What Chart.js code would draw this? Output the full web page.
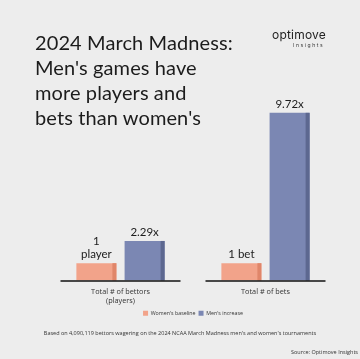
<!DOCTYPE html>
<html>
<head>
<meta charset="utf-8">
<script src="https://cdn.jsdelivr.net/npm/chart.js@4"></script>
<style>
  html, body { margin: 0; padding: 0; background: #ededed; }
  #wrap { position: relative; width: 360px; height: 359px; overflow: hidden; background: #ededed; font-family: "Open Sans", sans-serif; }
  #title { position: absolute; left: 35px; top: 30px; font-family: Lato, sans-serif; font-size: 20px; line-height: 25px; color: #1c1c1c; font-weight: 400; letter-spacing: 0.1px; }
  #logo { position: absolute; left: 272px; top: 27px; font-family: Inter, sans-serif; font-size: 12px; color: #222; letter-spacing: 0.2px; }
  #logo2 { position: absolute; left: 293px; top: 42px; font-family: Inter, sans-serif; font-size: 5px; color: #333; letter-spacing: 1.6px; }
  #note { position: absolute; left: 0; width: 360px; top: 329px; text-align: center; font-size: 5.5px; color: #333; }
  #src { position: absolute; right: 2px; top: 348px; font-size: 5.5px; color: #333; }
  canvas { position: absolute; left: 0; top: 0; }
</style>
</head>
<body>
<div id="wrap">
  <canvas id="c" width="360" height="359"></canvas>
  <div id="title">2024 March Madness:<br>Men's games have<br>more players and<br>bets than women's</div>
  <div id="logo">optimove</div>
  <div id="logo2">Insights</div>
  <div id="note">Based on 4,090,119 bettors wagering on the 2024 NCAA March Madness men's and women's tournaments</div>
  <div id="src">Source: Optimove Insights</div>
</div>
<script>
const categories = [["Total # of bettors", "(players)"], "Total # of bets"];
const seriesNames = ["Women's baseline", "Men's increase"];
const womens = [1, 1];
const mens = [2.29, 9.72];
const womensLabels = [["1", "player"], ["1 bet"]];
const mensLabels = [["2.29x"], ["9.72x"]];

const pink = '#f2a38a', pinkSide = '#e0866a';
const blue = '#7b87b3', blueSide = '#5d6890';

// darker right edge + value labels + axis segments
const extras = {
  id: 'extras',
  afterDatasetsDraw(chart) {
    const ctx = chart.ctx;
    const x = chart.scales.x, y = chart.scales.y;
    const sides = [pinkSide, blueSide];
    const labels = [womensLabels, mensLabels];
    chart.data.datasets.forEach((ds, di) => {
      chart.getDatasetMeta(di).data.forEach((bar, i) => {
        const right = bar.x + bar.width / 2;
        ctx.fillStyle = sides[di];
        ctx.fillRect(right - 4, bar.y, 4, bar.base - bar.y);
        ctx.fillStyle = '#1c1c1c';
        ctx.font = '11.5px Lato, sans-serif';
        ctx.textAlign = 'center';
        ctx.textBaseline = 'alphabetic';
        const lines = labels[di][i];
        lines.forEach((t, k) => {
          ctx.fillText(t, bar.x, bar.y - 5 - (lines.length - 1 - k) * 13);
        });
      });
    });
    ctx.strokeStyle = '#111';
    ctx.lineWidth = 1.5;
    categories.forEach((c, i) => {
      const cx = x.getPixelForValue(i);
      ctx.beginPath();
      ctx.moveTo(cx - 60, y.bottom + 0.5);
      ctx.lineTo(cx + 60, y.bottom + 0.5);
      ctx.stroke();
    });
  }
};

new Chart(document.getElementById('c'), {
  type: 'bar',
  data: {
    labels: categories,
    datasets: [
      { label: seriesNames[0], data: womens, backgroundColor: pink },
      { label: seriesNames[1], data: mens, backgroundColor: blue }
    ]
  },
  options: {
    responsive: false,
    animation: false,
    layout: { padding: { left: 48, right: 22, top: 108, bottom: 33 } },
    datasets: { bar: { categoryPercentage: 0.665, barPercentage: 0.83 } },
    plugins: {
      legend: {
        position: 'bottom',
        labels: { boxWidth: 5, boxHeight: 5, padding: 3, color: '#333', font: { family: 'Open Sans', size: 5.3 } }
      },
      tooltip: { enabled: false }
    },
    scales: {
      x: {
        grid: { display: false, drawTicks: false },
        border: { display: false },
        ticks: { color: '#333', font: { family: 'Open Sans', size: 7.3, lineHeight: 1.25 }, padding: 7 },
        afterFit(scale) { scale.height -= 5; }
      },
      y: { display: false, min: 0, max: 10 }
    }
  },
  plugins: [extras]
});
</script>
</body>
</html>
